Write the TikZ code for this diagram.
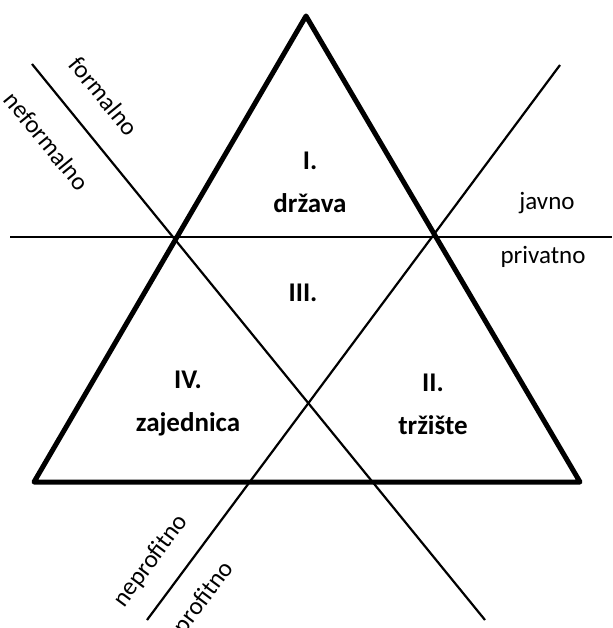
\documentclass[tikz,border=0pt]{standalone}
\usepackage{fontspec}
\setmainfont{Carlito}
\usetikzlibrary{positioning}
\definecolor{lineCol}{HTML}{000000}
\tikzset{
  tri/.style={draw=lineCol, line width=5pt, line join=round},
  divider/.style={draw=lineCol, line width=2.2pt},
  sector/.style={font=\fontsize{27}{43}\selectfont\bfseries, align=center, text=lineCol, inner sep=0pt},
  side/.style={font=\fontsize{25}{30}\selectfont, text=lineCol, inner sep=1pt},
}

\begin{document}
\begin{tikzpicture}[x=1pt, y=-1pt]
  \useasboundingbox (0,0) rectangle (612,628);

  % Triangle corners
  \coordinate (apex) at (306,16);
  \coordinate (baseL) at (34,482);
  \coordinate (baseR) at (580,482);

  % Divider ends
  \coordinate (pubL) at (10,237);
  \coordinate (pubR) at (612,237);
  \coordinate (formA) at (32,64);
  \coordinate (formB) at (485,620);
  \coordinate (profA) at (147,620);
  \coordinate (profB) at (560,65);

  \draw[divider] (pubL) -- (pubR);
  \draw[divider] (formA) -- (formB);
  \draw[divider] (profA) -- (profB);
  \draw[tri] (apex) -- (baseL) -- (baseR) -- cycle;

  % Sectors
  \node[sector] (drzava) at (310,182) {I.\\država};
  \node[sector] (treci) at (303,293) {III.};
  \node[sector] (trziste) at (433,404) {II.\\tržište};
  \node[sector] (zajed) at (188,404) {IV.\\zajednica};

  % Axis labels
  \node[side] (javno) at (547,203) {javno};
  \node[side] (privatno) at (543,257) {privatno};
  \node[side, rotate=-50.8] (formalno) at (104,96) {formalno};
  \node[side, rotate=-50.8] (neformalno) at (47,141) {neformalno};
  \node[side, rotate=53.3] (neprofitno) at (151,561) {neprofitno};
  \node[side, rotate=53.3] (profitno) at (204,598) {profitno};

\end{tikzpicture}
\end{document}
